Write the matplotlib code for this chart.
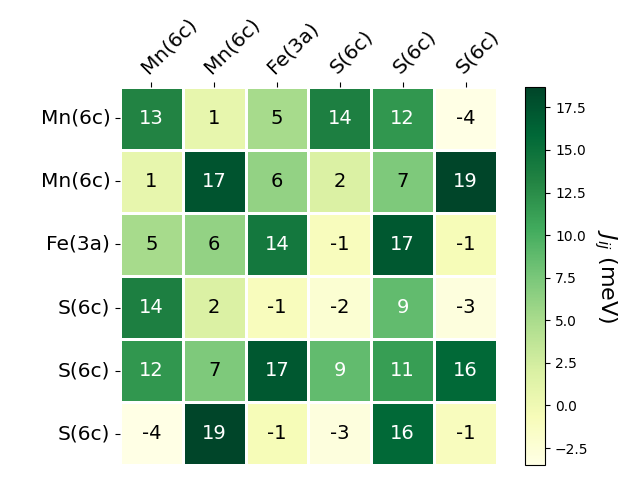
import numpy as np
import matplotlib
matplotlib.use("Agg")
import matplotlib.pyplot as plt
import seaborn as sns

# 원자 사이트 라벨
labels = ["Mn(6c)", "Mn(6c)", "Fe(3a)", "S(6c)", "S(6c)", "S(6c)"]

# 교환 상호작용 J_ij (meV), 대칭 행렬의 행들
row_mn1 = [13.2, 0.8, 5.1, 13.6, 11.8, -3.5]
row_mn2 = [0.8, 17.4, 6.2, 1.9, 7.3, 18.7]
row_fe = [5.1, 6.2, 14.3, -0.9, 17.2, -0.6]
row_s1 = [13.6, 1.9, -0.9, -2.2, 8.7, -2.9]
row_s2 = [11.8, 7.3, 17.2, 8.7, 11.3, 15.8]
row_s3 = [-3.5, 18.7, -0.6, -2.9, 15.8, -1.0]

J = np.array([row_mn1, row_mn2, row_fe, row_s1, row_s2, row_s3])

fig = plt.figure(figsize=(6.4, 4.8), dpi=100)
ax = fig.add_axes([0.1875, 0.031, 0.589, 0.788])
cax = fig.add_axes([0.820, 0.031, 0.032, 0.788])

sns.heatmap(J, ax=ax, cbar_ax=cax, cmap="YlGn", annot=True, fmt=".0f",
            annot_kws={"fontsize": 14}, linewidths=2, linecolor="white",
            xticklabels=labels, yticklabels=labels)

# 어두운 회색 글자 -> 검정
for t in ax.texts:
    if t.get_color() != "w":
        t.set_color("black")

ax.xaxis.tick_top()
plt.setp(ax.get_xticklabels(), rotation=45, ha="left", rotation_mode="anchor", fontsize=14.5)
plt.setp(ax.get_yticklabels(), rotation=0, fontsize=14.5)

cbar = ax.collections[0].colorbar
cbar.outline.set_visible(True)
cbar.outline.set_edgecolor("black")
cbar.outline.set_linewidth(0.8)
cbar.set_label(r"$J_{ij}$ (meV)", rotation=270, fontsize=16, labelpad=22)

fig.savefig("out.png", dpi=100)
